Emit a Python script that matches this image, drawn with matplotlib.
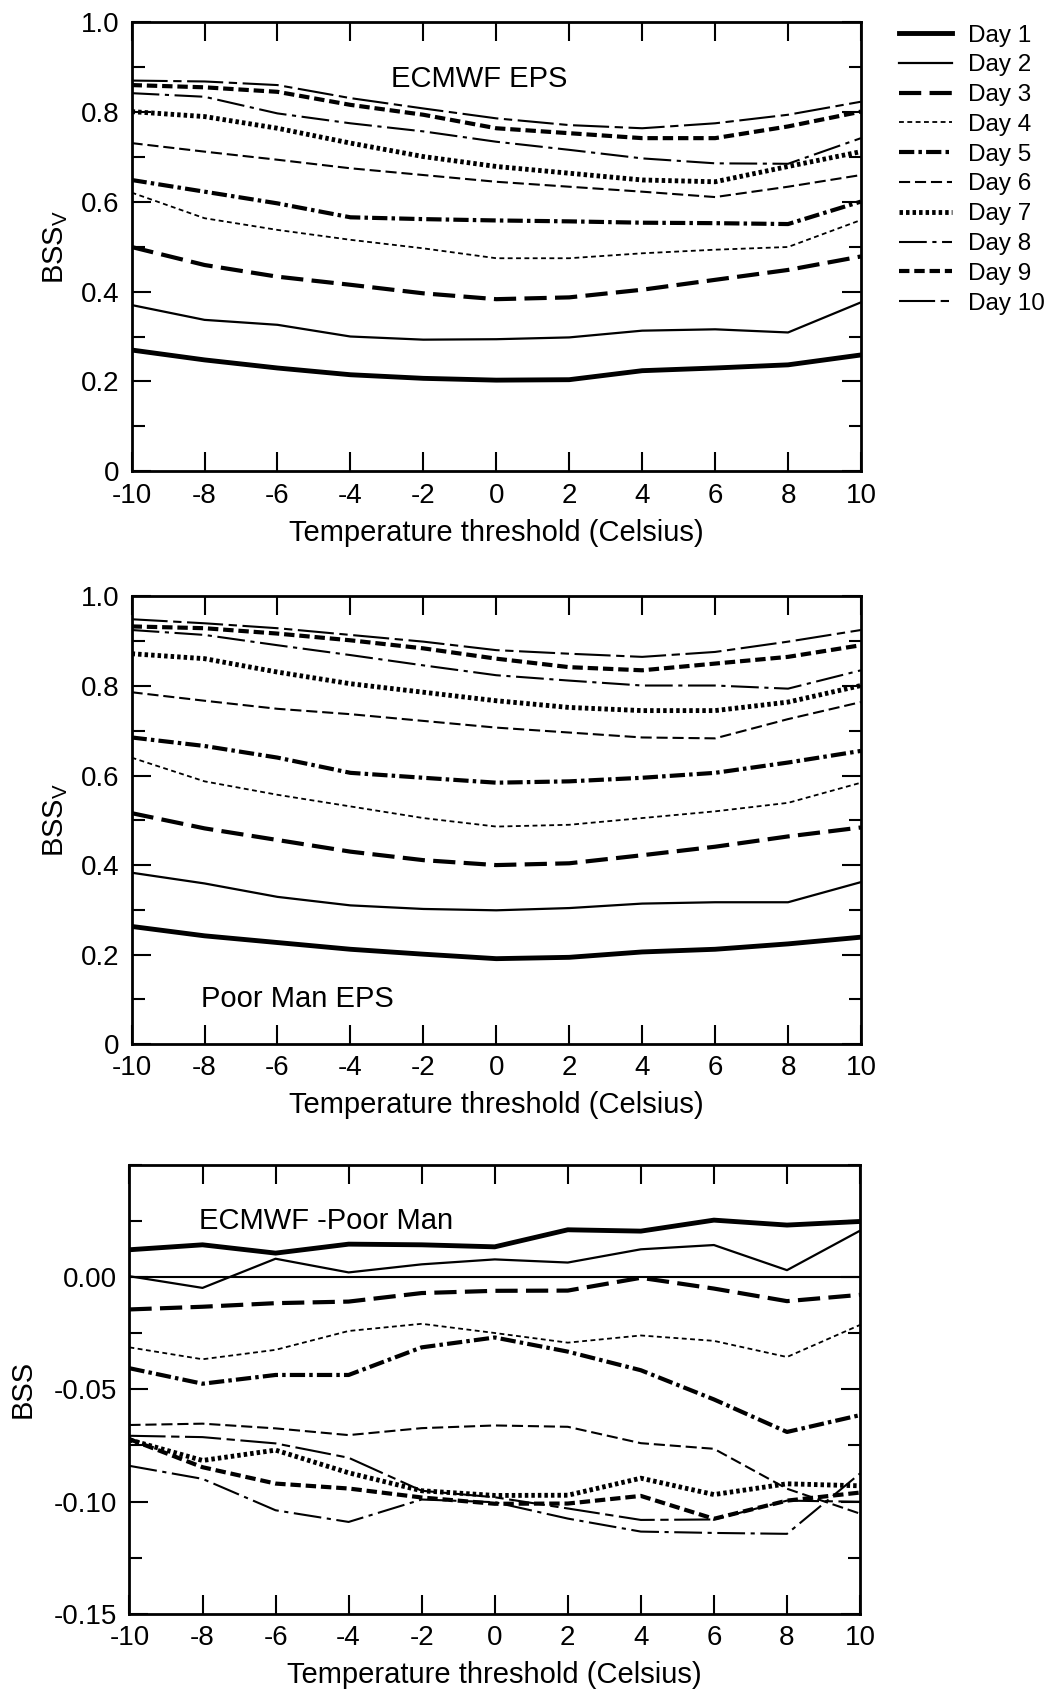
import matplotlib
matplotlib.use('Agg')
import matplotlib.pyplot as plt
from matplotlib.ticker import MultipleLocator, FixedLocator, FixedFormatter

plt.rcParams['font.family'] = ['Liberation Sans', 'DejaVu Sans']
plt.rcParams['mathtext.fontset'] = 'custom'
plt.rcParams['mathtext.rm'] = 'Liberation Sans'
plt.rcParams['lines.scale_dashes'] = False
plt.rcParams['axes.unicode_minus'] = False

thresholds = [-10, -8, -6, -4, -2, 0, 2, 4, 6, 8, 10]
days = ['Day 1', 'Day 2', 'Day 3', 'Day 4', 'Day 5', 'Day 6', 'Day 7', 'Day 8', 'Day 9', 'Day 10']

# BSSv, ECMWF EPS
ecmwf_bss = [
    [0.270, 0.248, 0.230, 0.215, 0.207, 0.203, 0.204, 0.224, 0.230, 0.237, 0.259],
    [0.370, 0.337, 0.326, 0.300, 0.293, 0.294, 0.298, 0.313, 0.316, 0.309, 0.376],
    [0.499, 0.459, 0.433, 0.415, 0.396, 0.383, 0.387, 0.404, 0.426, 0.448, 0.478],
    [0.620, 0.563, 0.537, 0.515, 0.496, 0.474, 0.474, 0.485, 0.493, 0.499, 0.559],
    [0.648, 0.622, 0.596, 0.565, 0.561, 0.558, 0.556, 0.553, 0.552, 0.550, 0.600],
    [0.730, 0.711, 0.693, 0.674, 0.659, 0.644, 0.633, 0.622, 0.610, 0.633, 0.659],
    [0.800, 0.789, 0.763, 0.730, 0.700, 0.678, 0.663, 0.648, 0.644, 0.678, 0.711],
    [0.841, 0.833, 0.796, 0.774, 0.756, 0.733, 0.715, 0.696, 0.685, 0.684, 0.741],
    [0.859, 0.854, 0.844, 0.815, 0.793, 0.763, 0.752, 0.741, 0.741, 0.767, 0.800],
    [0.869, 0.867, 0.859, 0.830, 0.807, 0.785, 0.770, 0.763, 0.774, 0.793, 0.822],
]

# BSSv, Poor Man EPS
poorman_bss = [
    [0.263, 0.242, 0.227, 0.212, 0.201, 0.191, 0.194, 0.206, 0.212, 0.224, 0.239],
    [0.383, 0.359, 0.329, 0.310, 0.302, 0.299, 0.304, 0.314, 0.317, 0.317, 0.362],
    [0.516, 0.482, 0.456, 0.430, 0.411, 0.400, 0.404, 0.422, 0.441, 0.464, 0.484],
    [0.640, 0.587, 0.557, 0.531, 0.505, 0.486, 0.490, 0.505, 0.520, 0.539, 0.584],
    [0.685, 0.666, 0.640, 0.606, 0.595, 0.584, 0.587, 0.595, 0.606, 0.629, 0.655],
    [0.786, 0.767, 0.749, 0.737, 0.722, 0.707, 0.696, 0.685, 0.683, 0.726, 0.764],
    [0.872, 0.861, 0.831, 0.805, 0.786, 0.767, 0.752, 0.745, 0.745, 0.764, 0.801],
    [0.925, 0.914, 0.891, 0.869, 0.846, 0.824, 0.812, 0.801, 0.801, 0.794, 0.835],
    [0.933, 0.929, 0.917, 0.902, 0.884, 0.861, 0.842, 0.835, 0.850, 0.865, 0.891],
    [0.949, 0.940, 0.929, 0.914, 0.899, 0.880, 0.872, 0.865, 0.876, 0.899, 0.925],
]

# BSS difference, ECMWF - Poor Man
diff_bss = [
    [0.0122, 0.0144, 0.0107, 0.0147, 0.0144, 0.0135, 0.0211, 0.0205, 0.0254, 0.0232, 0.0248],
    [0.0004, -0.0048, 0.0082, 0.0021, 0.0057, 0.0079, 0.0065, 0.0124, 0.0143, 0.0031, 0.0207],
    [-0.0144, -0.0132, -0.0116, -0.0109, -0.0071, -0.0061, -0.0060, -0.0003, -0.0051, -0.0107, -0.0079],
    [-0.0313, -0.0366, -0.0324, -0.0240, -0.0208, -0.0249, -0.0292, -0.0260, -0.0284, -0.0356, -0.0213],
    [-0.0406, -0.0475, -0.0436, -0.0436, -0.0313, -0.0269, -0.0332, -0.0415, -0.0545, -0.0690, -0.0615],
    [-0.0659, -0.0653, -0.0674, -0.0704, -0.0673, -0.0661, -0.0667, -0.0740, -0.0765, -0.0943, -0.1054],
    [-0.0725, -0.0817, -0.0771, -0.0872, -0.0952, -0.0973, -0.0972, -0.0896, -0.0969, -0.0921, -0.0930],
    [-0.0841, -0.0899, -0.1039, -0.1091, -0.0991, -0.1003, -0.1076, -0.1134, -0.1140, -0.1144, -0.0875],
    [-0.0722, -0.0847, -0.0920, -0.0942, -0.0982, -0.1010, -0.1009, -0.0975, -0.1077, -0.0996, -0.0960],
    [-0.0707, -0.0713, -0.0741, -0.0805, -0.0952, -0.0981, -0.1031, -0.1082, -0.1080, -0.0996, -0.1001],
]

styles = [
    dict(lw=3.5, ls='-'),
    dict(lw=1.6, ls='-'),
    dict(lw=3.0, ls=(0, (16, 6))),
    dict(lw=1.3, ls=(0, (3.5, 2.5))),
    dict(lw=3.0, ls=(0, (11, 3, 2.5, 3))),
    dict(lw=1.5, ls=(0, (8, 3.5))),
    dict(lw=3.5, ls=(0, (2.5, 2.2))),
    dict(lw=1.5, ls=(0, (20, 4, 3, 4))),
    dict(lw=3.0, ls=(0, (7.5, 3.5))),
    dict(lw=1.5, ls=(0, (26, 4, 6, 4))),
]

FS = 20
TXT = 21


def style_axes(ax):
    ax.set_xlim(-10, 10)
    ax.xaxis.set_major_locator(MultipleLocator(2))
    ax.tick_params(which='both', direction='in', top=True, right=True, width=1.5, labelsize=FS)
    ax.tick_params(which='major', length=14)
    ax.tick_params(axis='x', which='major', pad=8)
    ax.tick_params(axis='y', which='major', pad=9)
    ax.tick_params(which='minor', length=9)
    for s in ax.spines.values():
        s.set_linewidth(2)
    ax.set_xlabel('Temperature threshold (Celsius)', fontsize=TXT)
    ax.xaxis.set_label_coords(0.5, -0.105)


def draw_panel(ax, data):
    lines = []
    for vals, st, lab in zip(data, styles, days):
        ln, = ax.plot(thresholds, vals, color='black', lw=st['lw'], ls=st['ls'],
                      dash_capstyle='butt', label=lab)
        lines.append(ln)
    return lines


fig = plt.figure(figsize=(10.55, 16.91), dpi=100)
ax1 = fig.add_axes([0.1247, 0.7212, 0.6914, 0.266])
ax2 = fig.add_axes([0.1247, 0.3825, 0.6914, 0.2648])
ax3 = fig.add_axes([0.1227, 0.0457, 0.6925, 0.2654])

handles = draw_panel(ax1, ecmwf_bss)
draw_panel(ax2, poorman_bss)
draw_panel(ax3, diff_bss)

for ax in (ax1, ax2):
    style_axes(ax)
    ax.set_ylim(0, 1.0)
    ax.yaxis.set_major_locator(FixedLocator([0, 0.2, 0.4, 0.6, 0.8, 1.0]))
    ax.yaxis.set_major_formatter(FixedFormatter(['0', '0.2', '0.4', '0.6', '0.8', '1.0']))
    ax.yaxis.set_minor_locator(MultipleLocator(0.1))
    ax.set_ylabel(r'$\mathrm{BSS_V}$', fontsize=TXT)
    ax.yaxis.set_label_coords(-0.084, 0.5)

style_axes(ax3)
ax3.set_ylim(-0.15, 0.05)
ax3.axhline(0, color='black', lw=1.5)
ax3.yaxis.set_major_locator(FixedLocator([-0.15, -0.10, -0.05, 0.0]))
ax3.yaxis.set_major_formatter(FixedFormatter(['-0.15', '-0.10', '-0.05', '0.00']))
ax3.yaxis.set_minor_locator(MultipleLocator(0.025))
ax3.set_ylabel('BSS', fontsize=TXT)
ax3.yaxis.set_label_coords(-0.127, 0.5)

ax1.text(-2.9, 0.873, 'ECMWF EPS', fontsize=TXT, va='center', ha='left')
ax2.text(-8.1, 0.101, 'Poor Man EPS', fontsize=TXT, va='center', ha='left')
ax3.text(-8.1, 0.025, 'ECMWF -Poor Man', fontsize=TXT, va='center', ha='left')

fig.legend(handles=handles, loc='upper left', bbox_to_anchor=(0.852, 0.9855),
           frameon=False, fontsize=17.5, handlelength=2.2, handletextpad=0.65,
           labelspacing=0.32, borderaxespad=0, borderpad=0)

fig.savefig('out.png', dpi=100)
